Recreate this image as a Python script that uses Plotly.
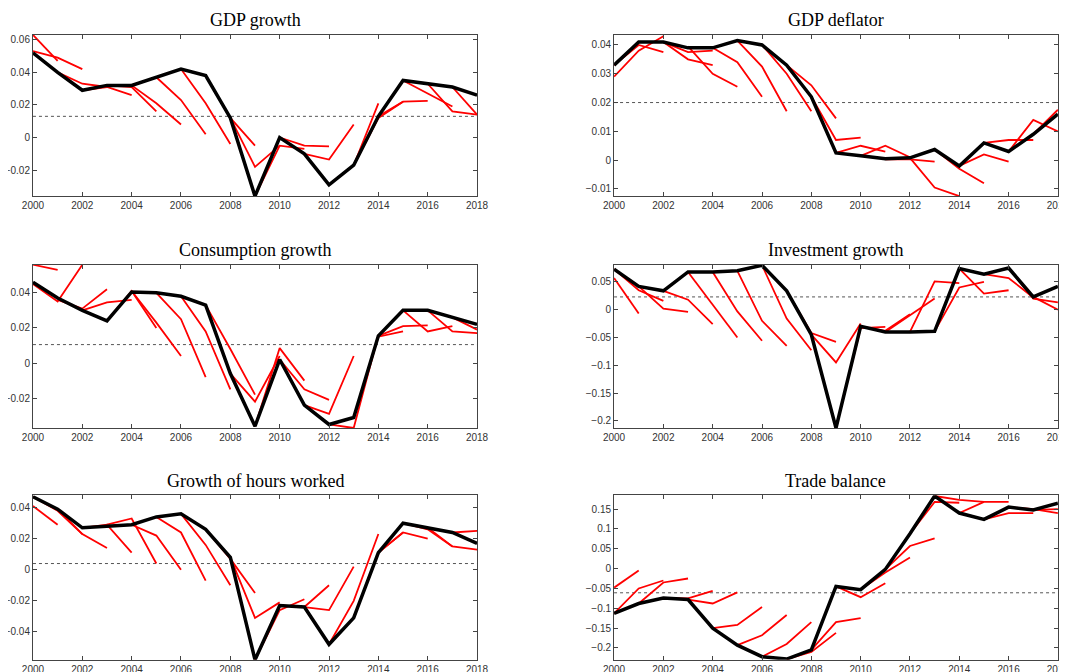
import plotly.graph_objects as go

years = list(range(2000, 2019))

# actual series
gdp = [0.052, 0.040, 0.029, 0.032, 0.032, 0.037, 0.042, 0.038, 0.012, -0.036,
       0.000, -0.010, -0.029, -0.017, 0.013, 0.035, 0.033, 0.031, 0.026]
defl = [0.033, 0.041, 0.041, 0.039, 0.039, 0.0415, 0.040, 0.033, 0.022, 0.0025,
        0.0015, 0.0005, 0.0008, 0.0037, -0.002, 0.006, 0.003, 0.009, 0.016]
cons = [0.046, 0.037, 0.030, 0.024, 0.0405, 0.040, 0.038, 0.033, -0.006, -0.036,
        0.002, -0.024, -0.035, -0.031, 0.0155, 0.030, 0.030, 0.026, 0.022]
inv = [0.073, 0.042, 0.034, 0.068, 0.068, 0.070, 0.080, 0.034, -0.045, -0.213,
       -0.030, -0.040, -0.040, -0.039, 0.074, 0.064, 0.075, 0.023, 0.042]
hours = [0.047, 0.039, 0.027, 0.028, 0.029, 0.034, 0.036, 0.026, 0.008, -0.058,
         -0.023, -0.024, -0.048, -0.031, 0.011, 0.030, 0.027, 0.024, 0.017]
trade = [-0.113, -0.088, -0.074, -0.078, -0.150, -0.193, -0.222, -0.228, -0.205, -0.045,
         -0.053, -0.002, 0.088, 0.183, 0.140, 0.124, 0.155, 0.148, 0.165]

# forecasts: (start year, values)
gdp_fc = [(2000, [0.063, 0.047]), (2000, [0.053, 0.049, 0.042]), (2001, [0.040, 0.033, 0.031]),
          (2002, [0.029, 0.031, 0.026]), (2003, [0.032, 0.031, 0.016]), (2004, [0.032, 0.021, 0.008]),
          (2005, [0.037, 0.023, 0.002]), (2006, [0.042, 0.021, -0.004]), (2007, [0.038, 0.012, -0.005]),
          (2008, [0.012, -0.018, -0.005]), (2009, [-0.036, -0.005, -0.007]), (2010, [0.000, -0.005, -0.0055]),
          (2011, [-0.010, -0.0135, 0.008]), (2012, [-0.029, -0.017, 0.021]), (2013, [-0.017, 0.012, 0.022]),
          (2014, [0.013, 0.022, 0.0225]), (2015, [0.035, 0.027, 0.019]), (2016, [0.033, 0.016, 0.014]),
          (2017, [0.031, 0.014])]
defl_fc = [(2000, [0.029, 0.038, 0.043]), (2000, [0.033, 0.040, 0.0375]), (2002, [0.041, 0.0375, 0.038]),
           (2002, [0.041, 0.035, 0.033]), (2003, [0.0395, 0.030, 0.0255]), (2004, [0.039, 0.034, 0.022]),
           (2005, [0.0415, 0.0325, 0.017]), (2006, [0.040, 0.030, 0.017]), (2007, [0.033, 0.026, 0.0145]),
           (2008, [0.022, 0.007, 0.0078]), (2009, [0.0025, 0.005, 0.003]), (2010, [0.0015, 0.005, 0.001]),
           (2011, [0.0003, 0.0003, -0.0005]), (2012, [0.0008, -0.0095, -0.0125]), (2013, [0.0037, -0.003, -0.008]),
           (2014, [-0.002, 0.002, -0.0005]), (2015, [0.006, 0.007, 0.007]), (2016, [0.003, 0.014, 0.010]),
           (2017, [0.009, 0.0175])]
cons_fc = [(2000, [0.056, 0.053]), (2000, [0.045, 0.035, 0.056]), (2001, [0.036, 0.031, 0.042]),
           (2002, [0.030, 0.0345, 0.036]), (2003, [0.024, 0.041, 0.020]), (2004, [0.041, 0.023, 0.004]),
           (2005, [0.040, 0.025, -0.008]), (2006, [0.038, 0.018, -0.015]), (2007, [0.033, 0.008, -0.018]),
           (2008, [-0.006, -0.022, 0.004]), (2009, [-0.036, 0.0085, -0.010]), (2010, [0.002, -0.015, -0.021]),
           (2011, [-0.024, -0.029, 0.004]), (2012, [-0.035, -0.037, 0.016]), (2013, [-0.031, 0.015, 0.018]),
           (2014, [0.0155, 0.021, 0.0215]), (2015, [0.030, 0.018, 0.021]), (2016, [0.030, 0.018, 0.017]),
           (2017, [0.026, 0.019])]
inv_fc = [(2000, [0.057, -0.007]), (2000, [0.073, 0.035, 0.016]), (2001, [0.042, 0.002, -0.004]),
          (2002, [0.034, 0.018, -0.026]), (2003, [0.068, 0.008, -0.050]), (2004, [0.068, -0.003, -0.056]),
          (2005, [0.070, -0.020, -0.065]), (2006, [0.080, -0.016, -0.073]), (2007, [0.034, -0.042, -0.058]),
          (2008, [-0.045, -0.095, -0.025]), (2009, [-0.213, -0.033, -0.031]), (2010, [-0.030, -0.038, -0.008]),
          (2011, [-0.040, -0.010, 0.020]), (2012, [-0.040, 0.051, 0.048]), (2013, [-0.039, 0.040, 0.050]),
          (2014, [0.074, 0.029, 0.035]), (2015, [0.064, 0.057, 0.022]), (2016, [0.075, 0.020, 0.013]),
          (2017, [0.023, 0.000])]
hours_fc = [(2000, [0.041, 0.029]), (2000, [0.047, 0.038, 0.023]), (2001, [0.039, 0.023, 0.014]),
            (2002, [0.027, 0.029, 0.011]), (2003, [0.029, 0.033, 0.004]), (2004, [0.029, 0.022, 0.000]),
            (2005, [0.034, 0.024, -0.007]), (2006, [0.036, 0.016, -0.010]), (2007, [0.026, 0.007, -0.015]),
            (2008, [0.008, -0.031, -0.021]), (2009, [-0.058, -0.026, -0.019]), (2010, [-0.023, -0.024, -0.010]),
            (2011, [-0.024, -0.026, 0.002]), (2012, [-0.048, -0.020, 0.023]), (2013, [-0.031, 0.011, 0.024]),
            (2014, [0.011, 0.024, 0.020]), (2015, [0.030, 0.026, 0.015]), (2016, [0.027, 0.015, 0.013]),
            (2017, [0.024, 0.025])]
trade_fc = [(2000, [-0.048, -0.005]), (2000, [-0.113, -0.050, -0.030]), (2001, [-0.088, -0.035, -0.025]),
            (2002, [-0.074, -0.075, -0.056]), (2003, [-0.078, -0.088, -0.060]), (2004, [-0.150, -0.142, -0.097]),
            (2005, [-0.193, -0.168, -0.117]), (2006, [-0.222, -0.190, -0.135]), (2007, [-0.228, -0.210, -0.162]),
            (2008, [-0.205, -0.135, -0.125]), (2009, [-0.045, -0.072, -0.037]), (2010, [-0.053, -0.010, 0.028]),
            (2011, [-0.002, 0.057, 0.076]), (2012, [0.088, 0.168, 0.166]), (2013, [0.183, 0.173, 0.168]),
            (2014, [0.140, 0.168, 0.168]), (2015, [0.124, 0.140, 0.140]), (2016, [0.155, 0.150, 0.140]),
            (2017, [0.148, 0.150])]

panels = [
    ("GDP growth", gdp, gdp_fc, 0.013, [-0.036, 0.063], [-0.02, 0, 0.02, 0.04, 0.06]),
    ("GDP deflator", defl, defl_fc, 0.020, [-0.0125, 0.0435], [-0.01, 0, 0.01, 0.02, 0.03, 0.04]),
    ("Consumption growth", cons, cons_fc, 0.0105, [-0.037, 0.056], [-0.02, 0, 0.02, 0.04]),
    ("Investment growth", inv, inv_fc, 0.023, [-0.213, 0.081], [-0.2, -0.15, -0.1, -0.05, 0, 0.05]),
    ("Growth of hours worked", hours, hours_fc, 0.004, [-0.058, 0.048], [-0.04, -0.02, 0, 0.02, 0.04]),
    ("Trade balance", trade, trade_fc, -0.061, [-0.23, 0.185], [-0.2, -0.15, -0.1, -0.05, 0, 0.05, 0.1, 0.15]),
]

# domains compensate for the page's 8px body margin
xdoms = [[0.0234, 0.4396], [0.568, 0.984]]
ydoms = [[0.720, 0.960], [0.375, 0.618], [0.030, 0.275]]

fig = go.Figure()
for i, (title, actual, fcs, mean, yr, yt) in enumerate(panels):
    n = i + 1
    xa = "x" if n == 1 else f"x{n}"
    ya = "y" if n == 1 else f"y{n}"
    xd = xdoms[i % 2]
    yd = ydoms[i // 2]
    fig.add_trace(go.Scatter(x=[2000, 2018], y=[mean, mean], mode="lines",
                             line=dict(color="#555", width=1, dash="dot"),
                             xaxis=xa, yaxis=ya, showlegend=False))
    for start, vals in fcs:
        fig.add_trace(go.Scatter(x=list(range(start, start + len(vals))), y=vals, mode="lines",
                                 line=dict(color="#ff0000", width=1.8),
                                 xaxis=xa, yaxis=ya, showlegend=False))
    fig.add_trace(go.Scatter(x=years, y=actual, mode="lines",
                             line=dict(color="black", width=3.5),
                             xaxis=xa, yaxis=ya, showlegend=False))
    ax = dict(showline=True, linecolor="#444", linewidth=1, mirror="ticks", ticks="inside",
              ticklen=4, tickcolor="#444", showgrid=False, zeroline=False, automargin=False,
              tickfont=dict(family="Liberation Sans, Arial", size=10, color="#333"))
    fig.layout[xa.replace("x", "xaxis")] = dict(ax, domain=xd, anchor=ya, range=[2000, 2018],
                                                tickvals=list(range(2000, 2019, 2)))
    fig.layout[ya.replace("y", "yaxis")] = dict(ax, domain=yd, anchor=xa, range=yr, tickvals=yt)
    fig.add_annotation(text=title, x=(xd[0] + xd[1]) / 2, y=yd[1] + 0.004, xref="paper", yref="paper",
                       xanchor="center", yanchor="bottom", showarrow=False,
                       font=dict(family="Liberation Serif, DejaVu Serif", size=18, color="black"))

fig.update_layout(width=1067, height=672, margin=dict(l=0, r=0, t=0, b=0),
                  paper_bgcolor="white", plot_bgcolor="white")
fig.write_html("out.html")
